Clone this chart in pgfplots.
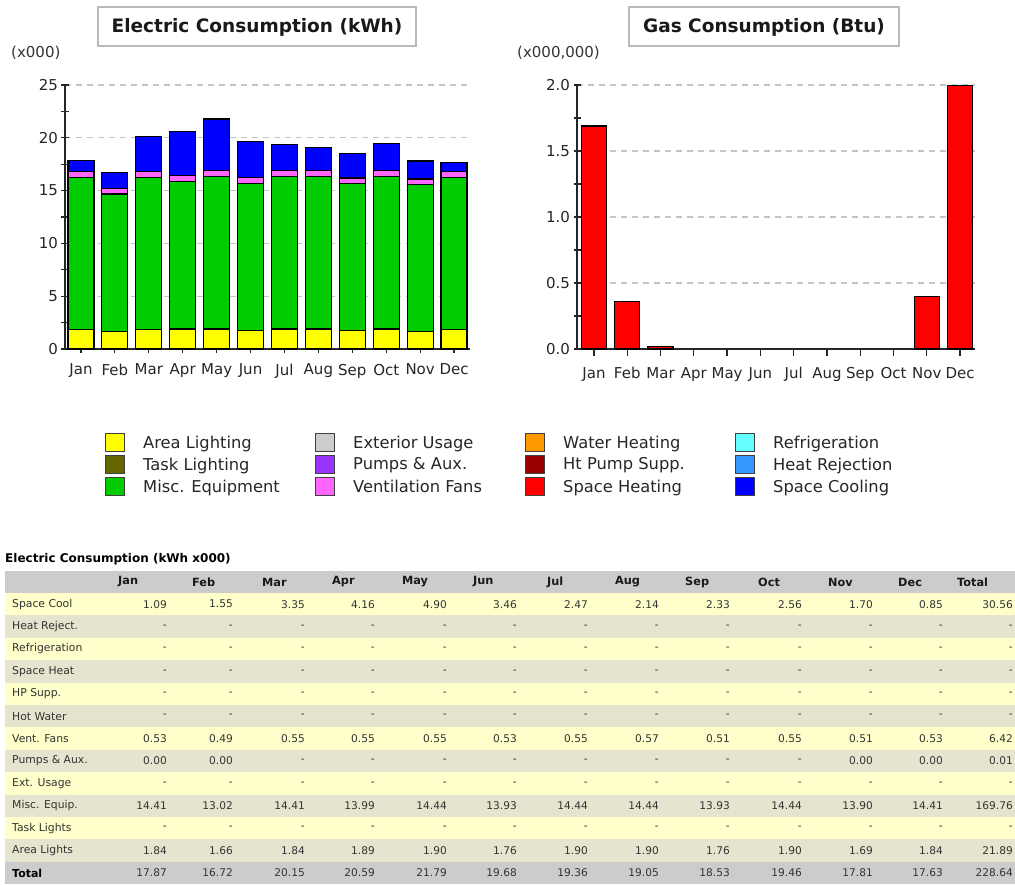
\documentclass[border=0pt]{standalone}
\usepackage{fontspec}
\setmainfont{DejaVu Sans}
\usepackage{pgfplots}
\pgfplotsset{compat=1.18}

\definecolor{cArea}{HTML}{FFFF00}
\definecolor{cTask}{HTML}{666600}
\definecolor{cMisc}{HTML}{00CC00}
\definecolor{cExt}{HTML}{CCCCCC}
\definecolor{cPump}{HTML}{9933FF}
\definecolor{cVent}{HTML}{FF66FF}
\definecolor{cWater}{HTML}{FF9900}
\definecolor{cHPS}{HTML}{990000}
\definecolor{cHeat}{HTML}{FF0000}
\definecolor{cRefr}{HTML}{66FFFF}
\definecolor{cRej}{HTML}{3399FF}
\definecolor{cCool}{HTML}{0000FF}
\definecolor{rowY}{HTML}{FFFFCC}
\definecolor{rowG}{HTML}{E4E4CF}
\definecolor{rowH}{HTML}{CCCCCC}
\definecolor{txt}{HTML}{333333}
\definecolor{gridc}{HTML}{C4C4C4}

\newcommand\D{-\hspace{6pt}}

\pgfplotsset{
  common/.style={
    scale only axis,
    axis lines=left,
    axis line style={-, line width=1.5pt, black!85},
    tick align=center,
    major tick length=7pt, minor tick length=7pt,
    tick style={black!85, line width=1.2pt},
    ymajorgrids,
    grid style={gridc, line width=1.2pt, dash pattern=on 6pt off 5pt},
    xtick={0,...,11},
    xticklabels={Jan,Feb,Mar,Apr,May,Jun,Jul,Aug,Sep,Oct,Nov,Dec},
    ticklabel style={font=\fontsize{15}{18}\selectfont, text=black!85},
    xticklabel style={yshift=-8pt},
    /pgf/number format/assume math mode=true,
    ymin=0,
    every axis plot/.append style={draw=black, line width=1.2pt},
  },
  sq/.style={legend image code/.code={\draw[fill=#1, draw=black!75, line width=1pt] (0pt,-9pt) rectangle (19pt,9pt);}},
}

\begin{document}
\begin{tikzpicture}
\useasboundingbox (0pt,0pt) rectangle (1015pt,-884pt);

% ---------------- Electric consumption ----------------
\begin{axis}[common,
  at={(65pt,-349pt)}, anchor=south west,
  width=405pt, height=264pt,
  xmin=-0.47, xmax=11.47, ymax=25,
  ytick={0,5,...,25}, minor ytick={2.5,7.5,...,22.5},
  ybar stacked, bar width=26pt,
  legend columns=4,
  legend cell align=left,
  legend style={at={(0.0988,-0.318)}, anchor=north west, draw=none, fill=none,
    inner sep=0pt, column sep=0pt, row sep=3pt,
    nodes={inner sep=0pt, anchor=west},
    font=\fontsize{16.3}{19}\selectfont, text=black!85},
]
\addplot[fill=cArea, forget plot] coordinates {(0,1.84) (1,1.66) (2,1.84) (3,1.89) (4,1.90) (5,1.76) (6,1.90) (7,1.90) (8,1.76) (9,1.90) (10,1.69) (11,1.84)};
\addplot[fill=cMisc, forget plot] coordinates {(0,14.41) (1,13.02) (2,14.41) (3,13.99) (4,14.44) (5,13.93) (6,14.44) (7,14.44) (8,13.93) (9,14.44) (10,13.90) (11,14.41)};
\addplot[fill=cVent, forget plot] coordinates {(0,0.53) (1,0.49) (2,0.55) (3,0.55) (4,0.55) (5,0.53) (6,0.55) (7,0.57) (8,0.51) (9,0.55) (10,0.51) (11,0.53)};
\addplot[fill=cCool, forget plot] coordinates {(0,1.09) (1,1.55) (2,3.35) (3,4.16) (4,4.90) (5,3.46) (6,2.47) (7,2.14) (8,2.33) (9,2.56) (10,1.70) (11,0.85)};

\addlegendimage{sq=cArea}\addlegendentry{\hspace{18pt}\makebox[172pt][l]{Area Lighting}}
\addlegendimage{sq=cExt}\addlegendentry{\hspace{18pt}\makebox[172pt][l]{Exterior Usage}}
\addlegendimage{sq=cWater}\addlegendentry{\hspace{18pt}\makebox[172pt][l]{Water Heating}}
\addlegendimage{sq=cRefr}\addlegendentry{\hspace{18pt}\makebox[140pt][l]{Refrigeration}}
\addlegendimage{sq=cTask}\addlegendentry{\hspace{18pt}\makebox[172pt][l]{Task Lighting}}
\addlegendimage{sq=cPump}\addlegendentry{\hspace{18pt}\makebox[172pt][l]{Pumps \& Aux.}}
\addlegendimage{sq=cHPS}\addlegendentry{\hspace{18pt}\makebox[172pt][l]{Ht Pump Supp.}}
\addlegendimage{sq=cRej}\addlegendentry{\hspace{18pt}\makebox[140pt][l]{Heat Rejection}}
\addlegendimage{sq=cMisc}\addlegendentry{\hspace{18pt}\makebox[172pt][l]{Misc. Equipment}}
\addlegendimage{sq=cVent}\addlegendentry{\hspace{18pt}\makebox[172pt][l]{Ventilation Fans}}
\addlegendimage{sq=cHeat}\addlegendentry{\hspace{18pt}\makebox[172pt][l]{Space Heating}}
\addlegendimage{sq=cCool}\addlegendentry{\hspace{18pt}\makebox[140pt][l]{Space Cooling}}
\end{axis}

% ---------------- Gas consumption ----------------
\begin{axis}[common,
  at={(577pt,-349pt)}, anchor=south west,
  width=398pt, height=264pt,
  xmin=-0.51, xmax=11.45, ymax=2,
  ytick={0,0.5,...,2}, minor ytick={0.25,0.75,...,1.75},
  yticklabel style={/pgf/number format/.cd, fixed, fixed zerofill, precision=1},
  ybar, bar width=25pt, bar shift=0pt,
]
\addplot[fill=cHeat] coordinates {(0,1.69) (1,0.36) (2,0.02) (10,0.40) (11,2.00)};
\end{axis}

% ---------------- titles and table ----------------
\begin{scope}[x=1pt, y=-1pt]
\draw[gray!55, line width=2.5pt, fill=white] (98,7) rectangle (416,46);
\node[font=\bfseries\fontsize{18.5}{22}\selectfont, text=black!90] at (257,27) {Electric Consumption (kWh)};
\draw[gray!55, line width=2.5pt, fill=white] (629,7) rectangle (899,46);
\node[font=\bfseries\fontsize{18.5}{22}\selectfont, text=black!90] at (764,27) {Gas Consumption (Btu)};
\node[anchor=west, inner sep=0pt, font=\fontsize{15}{18}\selectfont, text=txt] at (11,53) {(x000)};
\node[anchor=west, inner sep=0pt, font=\fontsize{15}{18}\selectfont, text=txt] at (517,53) {(x000,000)};

\node[anchor=west, inner sep=0pt, font=\bfseries\fontsize{12}{14}\selectfont] at (5,559) {Electric Consumption (kWh x000)};
\fill[rowH] (5,571) rectangle (1015,593);
\foreach \m/\xl in {Jan/118,Feb/192,Mar/262,Apr/332,May/402,Jun/473,Jul/547,Aug/615,Sep/685,Oct/758,Nov/828,Dec/898,Total/957}
  \node[anchor=west, inner sep=0pt, font=\bfseries\fontsize{11.3}{13}\selectfont, text=black!90] at (\xl,582) {\m};
\foreach \lab/\col/\vals [count=\r from 0] in {
  {Space Cool}/rowY/{1.09,1.55,3.35,4.16,4.90,3.46,2.47,2.14,2.33,2.56,1.70,0.85,30.56},
  {Heat Reject.}/rowG/{\D,\D,\D,\D,\D,\D,\D,\D,\D,\D,\D,\D,\D},
  {Refrigeration}/rowY/{\D,\D,\D,\D,\D,\D,\D,\D,\D,\D,\D,\D,\D},
  {Space Heat}/rowG/{\D,\D,\D,\D,\D,\D,\D,\D,\D,\D,\D,\D,\D},
  {HP Supp.}/rowY/{\D,\D,\D,\D,\D,\D,\D,\D,\D,\D,\D,\D,\D},
  {Hot Water}/rowG/{\D,\D,\D,\D,\D,\D,\D,\D,\D,\D,\D,\D,\D},
  {Vent. Fans}/rowY/{0.53,0.49,0.55,0.55,0.55,0.53,0.55,0.57,0.51,0.55,0.51,0.53,6.42},
  {Pumps \& Aux.}/rowG/{0.00,0.00,\D,\D,\D,\D,\D,\D,\D,\D,0.00,0.00,0.01},
  {Ext. Usage}/rowY/{\D,\D,\D,\D,\D,\D,\D,\D,\D,\D,\D,\D,\D},
  {Misc. Equip.}/rowG/{14.41,13.02,14.41,13.99,14.44,13.93,14.44,14.44,13.93,14.44,13.90,14.41,169.76},
  {Task Lights}/rowY/{\D,\D,\D,\D,\D,\D,\D,\D,\D,\D,\D,\D,\D},
  {Area Lights}/rowG/{1.84,1.66,1.84,1.89,1.90,1.76,1.90,1.90,1.76,1.90,1.69,1.84,21.89}}
{
  \pgfmathsetmacro\ytop{593+22.4*\r}
  \fill[\col] (5,\ytop) rectangle (1015,\ytop+22.4);
  \node[anchor=west, inner sep=0pt, font=\fontsize{10.8}{12}\selectfont, text=txt] at (12,\ytop+11.2) {\lab};
  \foreach \v [count=\c from 0] in \vals {
    \pgfmathsetmacro\xr{{167,233,305,375,447,517,588,659,730,802,873,943,1013}[\c]}
    \node[anchor=east, inner sep=0pt, font=\fontsize{10.6}{12}\selectfont, text=txt] at (\xr,\ytop+11.2) {\v};
  }
}
\fill[rowH] (5,861.8) rectangle (1015,884.2);
\node[anchor=west, inner sep=0pt, font=\bfseries\fontsize{11}{12}\selectfont, text=black] at (12,873) {Total};
\foreach \v [count=\c from 0] in {17.87,16.72,20.15,20.59,21.79,19.68,19.36,19.05,18.53,19.46,17.81,17.63,228.64} {
  \pgfmathsetmacro\xr{{167,233,305,375,447,517,588,659,730,802,873,943,1013}[\c]}
  \node[anchor=east, inner sep=0pt, font=\fontsize{10.6}{12}\selectfont, text=txt] at (\xr,873) {\v};
}
\end{scope}
\end{tikzpicture}
\end{document}
